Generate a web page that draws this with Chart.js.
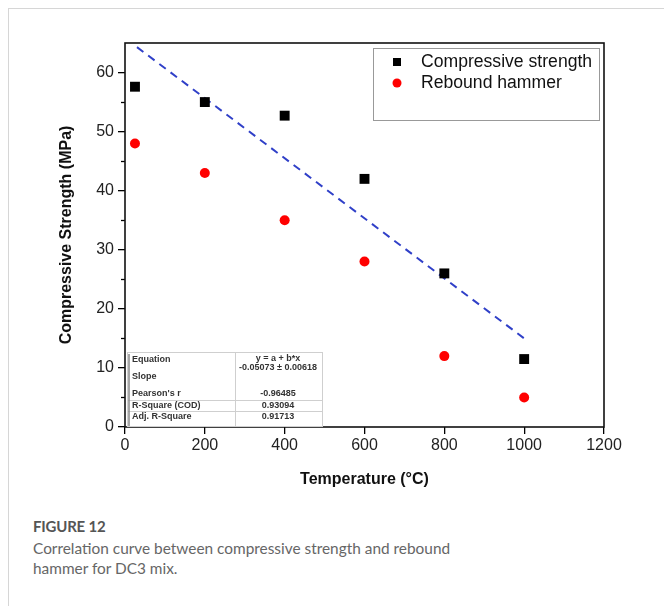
<!DOCTYPE html>
<html><head><meta charset="utf-8">
<script src="https://cdn.jsdelivr.net/npm/chart.js@4/dist/chart.umd.min.js"></script>
<style>
html,body{margin:0;padding:0;background:#fff;width:664px;height:606px;overflow:hidden}
#card{position:absolute;left:8px;top:8px;width:720px;height:640px;border-left:1px solid #d6d6d6;border-top:1px solid #d6d6d6}
#wrap{position:absolute;left:0;top:0;width:664px;height:500px}
#cap{position:absolute;left:33px;top:516px;font-family:Lato,"Open Sans",sans-serif;color:#666;font-size:15.4px;line-height:20px}
#cap .fig{font-weight:bold;color:#555;font-size:15px;margin-bottom:2px;letter-spacing:-0.2px}
</style>
</head><body>
<div id="card"></div>
<div id="wrap"><canvas id="c" width="664" height="500"></canvas></div>
<div id="cap"><div class="fig">FIGURE 12</div>Correlation curve between compressive strength and rebound<br>hammer for DC3 mix.</div>
<script>
// ---- data ----
const temperatures = [25, 200, 400, 600, 800, 1000];
const compressiveStrength = [57.6, 55.0, 52.7, 42.0, 26.0, 11.5];
const reboundHammer = [48.0, 43.0, 35.0, 28.0, 12.0, 5.0];
const fitX = [30, 1000];
const fitY = [64.3, 15.0];
const xTicks = [0, 200, 400, 600, 800, 1000, 1200];
const yTicks = [0, 10, 20, 30, 40, 50, 60];
const yMinorTicks = [5, 15, 25, 35, 45, 55];
const legendLabels = ["Compressive strength", "Rebound hammer"];
const tableLabels = ["Equation", "Slope", "Pearson's r", "R-Square (COD)", "Adj. R-Square"];
const tableValues = ["y = a + b*x", "-0.05073 \u00b1 0.00618", "-0.96485", "0.93094", "0.91713"];

const FONT = '"Liberation Sans", Arial, sans-serif';

const pts = (xs, ys) => xs.map((x, i) => ({x: x, y: ys[i]}));

const decor = {
  id: 'decor',
  afterDraw(chart) {
    const ctx = chart.ctx, ca = chart.chartArea;
    const ys = chart.scales.y;
    ctx.save();
    // minor ticks
    ctx.strokeStyle = '#000'; ctx.lineWidth = 1.3;
    yMinorTicks.forEach(v => {
      const p = Math.round(ys.getPixelForValue(v)) + 0.5;
      ctx.beginPath(); ctx.moveTo(ca.left - 4, p); ctx.lineTo(ca.left, p); ctx.stroke();
    });
    // frame
    ctx.lineWidth = 1.6; ctx.strokeStyle = '#111';
    ctx.strokeRect(ca.left, ca.top, ca.right - ca.left, ca.bottom - ca.top);

    // legend box
    const lx = ca.left + 248, ly = ca.top + 5, lw = ca.right - 5 - lx, lh = 72;
    ctx.lineWidth = 1; ctx.strokeStyle = '#999';
    ctx.strokeRect(lx + 0.5, ly + 0.5, lw, lh);
    ctx.fillStyle = '#000';
    ctx.fillRect(lx + 20, ly + 10, 8, 8);
    ctx.fillStyle = '#ff0000';
    ctx.beginPath(); ctx.arc(lx + 24, ly + 35, 4.5, 0, Math.PI * 2); ctx.fill();
    ctx.fillStyle = '#111';
    ctx.font = '17.6px ' + FONT; ctx.textBaseline = 'middle'; ctx.textAlign = 'left';
    ctx.fillText(legendLabels[0], lx + 48, ly + 14);
    ctx.fillText(legendLabels[1], lx + 48, ly + 35);

    // stats table
    const tx = ca.left + 2, ty = ca.top + 309, tw = 195, th = ca.bottom - ty - 1;
    const cx = tx + 108;
    ctx.fillStyle = '#fff';
    ctx.fillRect(tx, ty, tw, th);
    ctx.strokeStyle = '#cfcfcf'; ctx.lineWidth = 1;
    ctx.strokeRect(tx + 0.5, ty + 0.5, tw, th);
    ctx.beginPath(); ctx.moveTo(cx + 0.5, ty); ctx.lineTo(cx + 0.5, ty + th); ctx.stroke();
    [ty + 48, ty + 59].forEach(yy => { ctx.beginPath(); ctx.moveTo(tx, yy + 0.5); ctx.lineTo(tx + tw, yy + 0.5); ctx.stroke(); });
    ctx.strokeStyle = '#888'; ctx.lineWidth = 1.5;
    ctx.beginPath(); ctx.moveTo(tx + 2, ty + 2); ctx.lineTo(tx + 2, ty + th); ctx.stroke();
    ctx.fillStyle = '#333'; ctx.font = 'bold 9px ' + FONT;
    const rowsL = [8, 25, 42, 54, 65];
    tableLabels.forEach((t, i) => ctx.fillText(t, tx + 5, ty + rowsL[i]));
    ctx.textAlign = 'center';
    const rowsR = [7, 16, 42, 54, 65];
    tableValues.forEach((t, i) => ctx.fillText(t, cx + 43, ty + rowsR[i]));
    ctx.restore();
  }
};

new Chart(document.getElementById('c'), {
  type: 'scatter',
  data: {
    datasets: [
      {label: legendLabels[0], data: pts(temperatures, compressiveStrength), pointStyle: 'rect', pointRadius: 7, backgroundColor: '#000', borderColor: '#000', borderWidth: 0},
      {label: legendLabels[1], data: pts(temperatures, reboundHammer), pointStyle: 'circle', pointRadius: 5, backgroundColor: '#ff0000', borderColor: '#ff0000', borderWidth: 0},
      {label: 'Linear fit', data: pts(fitX, fitY), showLine: true, pointRadius: 0, borderColor: '#3040c8', borderWidth: 2, borderDash: [8, 6], fill: false}
    ]
  },
  options: {
    responsive: false, animation: false,
    layout: {padding: {left: 50, top: 43, right: 60, bottom: 3}},
    plugins: {legend: {display: false}, tooltip: {enabled: false}},
    scales: {
      x: {
        type: 'linear', min: 0, max: 1200,
        afterBuildTicks: s => { s.ticks = xTicks.map(v => ({value: v})); },
        afterFit: s => { s.height = 70; },
        ticks: {font: {family: FONT, size: 16}, color: '#222', padding: 2, maxRotation: 0, callback: v => String(v)},
        grid: {drawOnChartArea: false, drawTicks: true, tickLength: 7, color: '#000', lineWidth: 1.3},
        border: {display: false},
        title: {display: true, text: 'Temperature (\u00b0C)', font: {family: FONT, size: 16, weight: 'bold'}, color: '#111', padding: {top: 0, bottom: 8}}
      },
      y: {
        type: 'linear', min: 0, max: 65,
        afterBuildTicks: s => { s.ticks = yTicks.map(v => ({value: v})); },
        afterFit: s => { s.width = 75; },
        ticks: {font: {family: FONT, size: 16}, color: '#222', padding: 4, callback: v => String(v)},
        grid: {drawOnChartArea: false, drawTicks: true, tickLength: 7, color: '#000', lineWidth: 1.3},
        border: {display: false},
        title: {display: true, text: 'Compressive Strength (MPa)', font: {family: FONT, size: 16, weight: 'bold'}, color: '#111', padding: {top: 7, bottom: 0}}
      }
    }
  },
  plugins: [decor]
});
</script>
</body></html>
